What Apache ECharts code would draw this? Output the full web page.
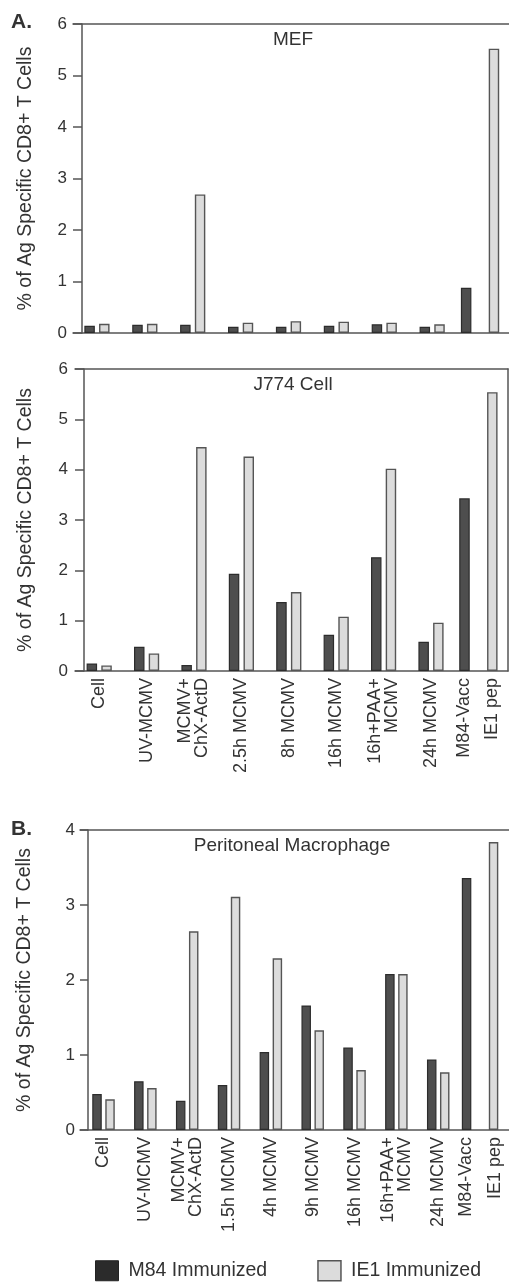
<!DOCTYPE html>
<html><head><meta charset="utf-8">
<script src="https://cdn.jsdelivr.net/npm/echarts@6/dist/echarts.min.js"></script>
<style>html,body{margin:0;padding:0;background:#fff}#c{width:509px;height:1282px}</style>
</head><body><div id="c"></div>
<script>
// ---------- data ----------
const categoriesA = ['Cell', 'UV-MCMV', 'MCMV+\nChX-ActD', '2.5h MCMV', '8h MCMV', '16h MCMV', '16h+PAA+\nMCMV', '24h MCMV', 'M84-Vacc', 'IE1 pep'];
const mefM84  = [0.14, 0.16, 0.16, 0.12, 0.12, 0.14, 0.17, 0.12, 0.88, null];
const mefIE1  = [0.18, 0.18, 2.69, 0.20, 0.23, 0.22, 0.20, 0.17, null, 5.52];
const j774M84 = [0.15, 0.48, 0.12, 1.93, 1.37, 0.72, 2.26, 0.58, 3.43, null];
const j774IE1 = [0.11, 0.35, 4.45, 4.26, 1.57, 1.08, 4.02, 0.96, null, 5.54];
const categoriesB = ['Cell', 'UV-MCMV', 'MCMV+\nChX-ActD', '1.5h MCMV', '4h MCMV', '9h MCMV', '16h MCMV', '16h+PAA+\nMCMV', '24h MCMV', 'M84-Vacc', 'IE1 pep'];
const macM84  = [0.48, 0.65, 0.39, 0.60, 1.04, 1.66, 1.10, 2.08, 0.94, 3.36, null];
const macIE1  = [0.41, 0.56, 2.65, 3.11, 2.29, 1.33, 0.80, 2.08, 0.77, null, 3.84];
const yTicksA = [0, 1, 2, 3, 4, 5, 6];
const yTicksB = [0, 1, 2, 3, 4];
const seriesNames = ['M84 Immunized', 'IE1 Immunized'];
const yTitle = '% of Ag Specific CD8+ T Cells';
const panelTitles = ['MEF', 'J774 Cell', 'Peritoneal Macrophage'];

// ---------- styles ----------
const FONT = '"Liberation Sans", Arial, Helvetica, sans-serif';
const TXT = '#333';
const LINE = { color: '#555', width: 1.5 };
const DARK = { color: '#4e4e4e', borderColor: '#2c2c2c', borderWidth: 1.2 };
const LIGHT = { color: '#dcdcdc', borderColor: '#555', borderWidth: 1.4 };
const SEP = '||';

const grid = [], xAxis = [], yAxis = [], series = [];

function addPanel(p) {
  const n = p.categories.length;
  const slots = p.categories.slice(0, n - 2).concat([p.categories[n - 2] + SEP + p.categories[n - 1]]);
  const mainM84 = p.m84.slice(0, n - 2).concat([null]);
  const mainIE1 = p.ie1.slice(0, n - 2).concat([null]);
  const soloM84 = slots.map((_, i) => i === slots.length - 1 ? p.m84[n - 2] : null);
  const soloIE1 = slots.map((_, i) => i === slots.length - 1 ? p.ie1[n - 1] : null);
  const yMin = p.ticks[0], yMax = p.ticks[p.ticks.length - 1], yInt = p.ticks[1] - p.ticks[0];

  const gFrame = grid.length;
  grid.push({ left: p.frameLeft, right: p.frameRight, top: p.top, height: p.height });
  const gBars = grid.length;
  grid.push({ left: p.barLeft, width: p.barSpan, top: p.top, height: p.height });

  const lineAxis = (pos) => ({
    gridIndex: gFrame, type: 'value', min: 0, max: 1, position: pos,
    axisLine: { show: true, onZero: false, lineStyle: LINE },
    axisTick: { show: false }, axisLabel: { show: false }, splitLine: { show: false }
  });
  xAxis.push(lineAxis('bottom'));
  xAxis.push(lineAxis('top'));
  yAxis.push({
    gridIndex: gFrame, type: 'value', min: yMin, max: yMax, interval: yInt, position: 'left',
    offset: p.axisOffset,
    axisLine: { show: true, onZero: false, lineStyle: LINE },
    axisTick: { show: true, length: p.tickLen, lineStyle: LINE },
    axisLabel: { margin: p.labelMargin, fontSize: 17, color: TXT, fontFamily: FONT },
    splitLine: { show: false },
    name: yTitle, nameLocation: 'middle', nameGap: p.nameGap,
    nameTextStyle: { fontSize: 19.5, color: TXT, fontFamily: FONT }
  });
  if (p.rightBorder) {
    yAxis.push({
      gridIndex: gFrame, type: 'value', min: yMin, max: yMax, position: 'right',
      axisLine: { show: true, onZero: false, lineStyle: LINE },
      axisTick: { show: false }, axisLabel: { show: false }, splitLine: { show: false }
    });
  }

  const xCat = xAxis.length;
  xAxis.push({
    gridIndex: gBars, type: 'category', data: slots, position: 'bottom',
    axisLine: { show: false }, axisTick: { show: false }, splitLine: { show: false },
    axisLabel: {
      show: p.showLabels, rotate: 90, margin: 7, interval: 0,
      fontSize: 18, lineHeight: 17, color: TXT, fontFamily: FONT,
      formatter: (v) => v.indexOf(SEP) >= 0 ? v.split(SEP).map(s => '{w|' + s + '}').join('\n') : v,
      rich: { w: { fontSize: 18, lineHeight: p.lastLineHeight, color: TXT, fontFamily: FONT } }
    }
  });
  const xSolo = xAxis.length;
  xAxis.push({ gridIndex: gBars, type: 'category', data: slots, show: false });
  const yBar = yAxis.length;
  yAxis.push({ gridIndex: gBars, type: 'value', min: yMin, max: yMax, show: false });

  series.push({ type: 'bar', name: seriesNames[0], xAxisIndex: xCat, yAxisIndex: yBar, data: mainM84,
    barWidth: p.barWidth, barGap: p.barGap, itemStyle: DARK, silent: true, animation: false });
  series.push({ type: 'bar', name: seriesNames[1], xAxisIndex: xCat, yAxisIndex: yBar, data: mainIE1,
    barWidth: p.barWidth, barGap: p.barGap, itemStyle: LIGHT, silent: true, animation: false });
  series.push({ type: 'bar', name: seriesNames[0], xAxisIndex: xSolo, yAxisIndex: yBar, data: soloM84,
    barWidth: p.barWidth, barGap: p.soloGap, itemStyle: DARK, silent: true, animation: false });
  series.push({ type: 'bar', name: seriesNames[1], xAxisIndex: xSolo, yAxisIndex: yBar, data: soloIE1,
    barWidth: p.barWidth, barGap: p.soloGap, itemStyle: LIGHT, silent: true, animation: false });
}

addPanel({ categories: categoriesA, m84: mefM84, ie1: mefIE1, ticks: yTicksA,
  top: 24, height: 309, frameLeft: 73, frameRight: 0, axisOffset: -9, tickLen: 9, labelMargin: 15,
  barLeft: 73, barSpan: 431, barWidth: 10.5, barGap: '40%', soloGap: '165%', nameGap: 46,
  showLabels: false, lastLineHeight: 28, rightBorder: false });
addPanel({ categories: categoriesA, m84: j774M84, ie1: j774IE1, ticks: yTicksA,
  top: 369, height: 302, frameLeft: 75, frameRight: 1, axisOffset: -9, tickLen: 9, labelMargin: 16,
  barLeft: 75.5, barSpan: 426.6, barWidth: 10.5, barGap: '40%', soloGap: '165%', nameGap: 48,
  showLabels: true, lastLineHeight: 28, rightBorder: true });
addPanel({ categories: categoriesB, m84: macM84, ie1: macIE1, ticks: yTicksB,
  top: 830, height: 300, frameLeft: 80, frameRight: 0, axisOffset: -8, tickLen: 8, labelMargin: 13,
  barLeft: 82.6, barSpan: 419.7, barWidth: 9.5, barGap: '37%', soloGap: '184%', nameGap: 53,
  showLabels: true, lastLineHeight: 29, rightBorder: false });

const txt = (text, x, y, size, bold) => ({
  type: 'text', x: x, y: y, silent: true,
  style: { text: text, fill: TXT, font: (bold ? 'bold ' : '') + size + 'px ' + FONT, textAlign: bold ? 'left' : 'center', textVerticalAlign: 'middle' }
});

const option = {
  animation: false,
  backgroundColor: '#fff',
  grid: grid, xAxis: xAxis, yAxis: yAxis, series: series,
  legend: {
    left: 95, top: 1260, padding: 0, itemWidth: 23, itemHeight: 20, itemGap: 50, icon: 'rect',
    selectedMode: false,
    textStyle: { fontSize: 19.5, color: TXT, fontFamily: FONT, padding: [0, 0, 0, 5] },
    data: [
      { name: seriesNames[0], itemStyle: { color: '#2b2b2b', borderColor: '#222', borderWidth: 1 } },
      { name: seriesNames[1], itemStyle: { color: '#dcdcdc', borderColor: '#555', borderWidth: 1.5 } }
    ]
  },
  graphic: [
    txt('A.', 11, 22, 21, true),
    txt('B.', 11, 829, 21, true),
    txt(panelTitles[0], 293, 40, 19, false),
    txt(panelTitles[1], 293, 385, 19, false),
    txt(panelTitles[2], 292, 846, 19, false)
  ]
};

const chart = echarts.init(document.getElementById('c'), null, { renderer: 'canvas' });
chart.setOption(option);
</script>
</body></html>
